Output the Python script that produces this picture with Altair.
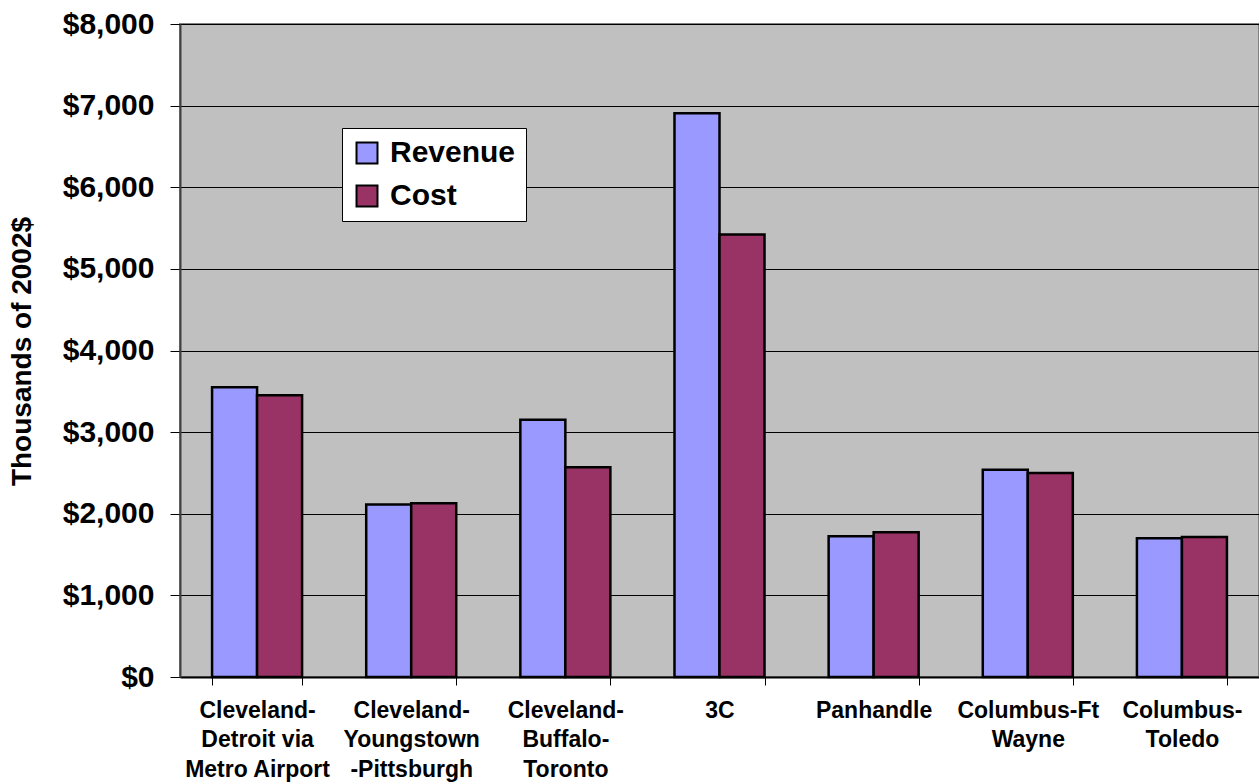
import altair as alt
import pandas as pd

categories = [
    "Cleveland-\nDetroit via\nMetro Airport",
    "Cleveland-\nYoungstown\n-Pittsburgh",
    "Cleveland-\nBuffalo-\nToronto",
    "3C",
    "Panhandle",
    "Columbus-Ft\nWayne",
    "Columbus-\nToledo",
]
revenue = [3550, 2112, 3153, 6908, 1724, 2540, 1700]
cost = [3453, 2129, 2570, 5420, 1773, 2500, 1716]
series = ["Revenue", "Cost"]
colors = ["#9999FF", "#993366"]
y_ticks = [0, 1000, 2000, 3000, 4000, 5000, 6000, 7000, 8000]

rows = []
for c, r, k in zip(categories, revenue, cost):
    rows.append({"route": c, "series": "Revenue", "value": r})
    rows.append({"route": c, "series": "Cost", "value": k})
df = pd.DataFrame(rows)

FONT = "Liberation Sans"

chart = (
    alt.Chart(df)
    .mark_bar(stroke="black", strokeWidth=2.5)
    .encode(
        x=alt.X(
            "route:N",
            sort=categories,
            scale=alt.Scale(paddingInner=0.416, paddingOuter=0.208),
            axis=alt.Axis(
                title=None,
                labelAngle=0,
                labelExpr="split(datum.label, '\\n')",
                labelFont=FONT,
                labelFontSize=23,
                labelFontWeight="bold",
                labelColor="black",
                labelLineHeight=29.5,
                labelPadding=14,
                labelBaseline="top",
                tickBand="extent",
                tickSize=8,
                tickColor="black",
                tickWidth=1,
                domainColor="black",
                domainWidth=2,
                grid=False,
            ),
        ),
        xOffset=alt.XOffset("series:N", sort=series, scale=alt.Scale(paddingInner=0)),
        y=alt.Y(
            "value:Q",
            scale=alt.Scale(domain=[0, 8000], nice=False),
            axis=alt.Axis(
                title="Thousands of 2002$",
                titleFont=FONT,
                titleFontSize=28,
                titleFontWeight="bold",
                titleColor="black",
                titleX=-144,
                titleY=327,
                titleAngle=270,
                titleBaseline="bottom",
                titleAlign="center",
                values=y_ticks,
                format="$,.0f",
                labelFont=FONT,
                labelFontSize=30,
                labelFontWeight="bold",
                labelColor="black",
                labelPadding=16,
                tickSize=10,
                tickColor="black",
                tickWidth=1,
                domainColor="#404040",
                domainWidth=2,
                grid=True,
                gridColor="black",
                gridWidth=1,
            ),
        ),
        color=alt.Color(
            "series:N",
            sort=series,
            scale=alt.Scale(domain=series, range=colors),
            legend=alt.Legend(
                title=None,
                orient="none",
                legendX=162,
                legendY=104,
                symbolType="square",
                symbolSize=440,
                symbolStrokeColor="black",
                symbolStrokeWidth=2,
                symbolOpacity=1,
                labelFont=FONT,
                labelFontSize=30,
                labelFontWeight="bold",
                labelColor="black",
                labelOffset=8,
                rowPadding=13,
                padding=10,
                fillColor="white",
                strokeColor="black",
            ),
        ),
    )
    .properties(
        width=1079,
        height=653,
        background="white",
        autosize=alt.AutoSizeParams(type="none"),
        padding={"left": 180, "top": 24, "right": 0, "bottom": 106},
    )
    .configure_view(fill="#C0C0C0", stroke="#808080", strokeWidth=2)
)

chart.save("out.html", embed_options={"renderer": "svg", "actions": False})
